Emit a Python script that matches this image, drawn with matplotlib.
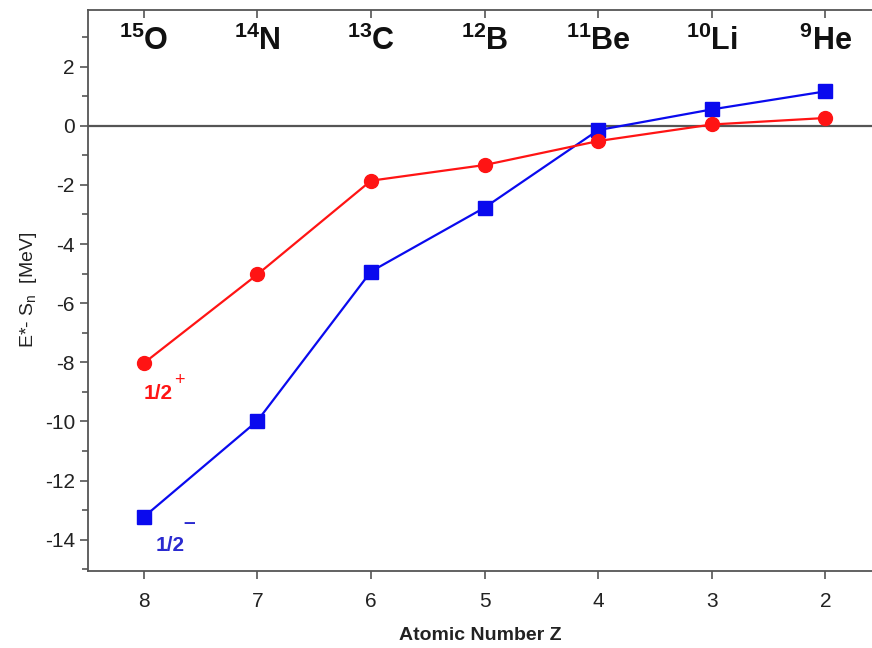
import matplotlib
matplotlib.use("agg")
from matplotlib import pyplot as plt
from matplotlib.ticker import MultipleLocator

plt.rcParams["font.family"] = ["Liberation Sans", "DejaVu Sans"]
plt.rcParams["mathtext.fontset"] = "custom"
plt.rcParams["mathtext.rm"] = "Liberation Sans"
plt.rcParams["mathtext.bf"] = "Liberation Sans:bold"
plt.rcParams["axes.unicode_minus"] = False

# atomic number Z and nuclide labels (mass number, symbol)
z_values = [8, 7, 6, 5, 4, 3, 2]
mass_numbers = ["15", "14", "13", "12", "11", "10", "9"]
symbols = ["O", "N", "C", "B", "Be", "Li", "He"]

# E* - Sn [MeV]
e_half_plus = [-8.03, -5.03, -1.86, -1.33, -0.52, 0.04, 0.26]
e_half_minus = [-13.23, -9.98, -4.93, -2.77, -0.15, 0.55, 1.16]

RED = "#ff1414"
BLUE = "#0a0aee"
GRAY = "#555555"

fig = plt.figure(figsize=(8.72, 6.48), dpi=100)
ax = fig.add_axes([0.101, 0.119, 0.899, 0.866])

ax.axhline(0, color=GRAY, lw=1.6, zorder=1)
ax.plot(z_values, e_half_plus, color=RED, lw=1.6, marker="o", ms=10, zorder=3)
ax.plot(z_values, e_half_minus, color=BLUE, lw=1.6, marker="s", ms=10, zorder=2)

ax.set_xlim(8.49, 1.59)
ax.set_ylim(-15.05, 3.92)
ax.set_xticks(z_values)
ax.yaxis.set_major_locator(MultipleLocator(2))
ax.yaxis.set_minor_locator(MultipleLocator(1))

for side in ["left", "bottom", "top"]:
    ax.spines[side].set_color(GRAY)
    ax.spines[side].set_linewidth(1.3)
ax.spines["right"].set_visible(False)

ax.tick_params(axis="y", which="both", direction="out", color=GRAY,
               labelsize=15, labelcolor="#222222", width=1.2)
ax.tick_params(axis="y", which="major", length=6)
ax.tick_params(axis="y", which="minor", length=4)
ax.tick_params(axis="x", direction="out", length=6, color=GRAY, width=1.2,
               labelsize=15, labelcolor="#222222", top=True, pad=9)
for t in ax.xaxis.get_major_ticks():
    t.tick2line.set_marker(3)  # tick pointing down from the top spine
    t.tick2line.set_markersize(6)

for z, a, s in zip(z_values, mass_numbers, symbols):
    ax.text(z, 2.85, rf"$^{{\mathbf{{{a}}}}}\mathbf{{{s}}}$", ha="center", va="center",
            fontsize=22, color="#111111")

ax.text(7.87, -9.05, "1/2", color=RED, fontsize=15, fontweight="bold",
        ha="center", va="center")
ax.text(7.69, -8.6, "+", color=RED, fontsize=13, ha="center", va="center")
ax.text(7.77, -14.2, "1/2", color="#2a2ad0", fontsize=15, fontweight="bold",
        ha="center", va="center")
ax.text(7.6, -13.4, "\u2013", color="#2a2ad0", fontsize=15, fontweight="bold",
        ha="center", va="center")

ax.set_ylabel(r"E*- S$_{\mathrm{n}}$  [MeV]", fontsize=14, color="#222222", labelpad=4)
ax.set_xlabel("Atomic Number Z", fontsize=14, fontweight="bold", color="#222222", labelpad=12)

fig.savefig("out.png", dpi=100)
